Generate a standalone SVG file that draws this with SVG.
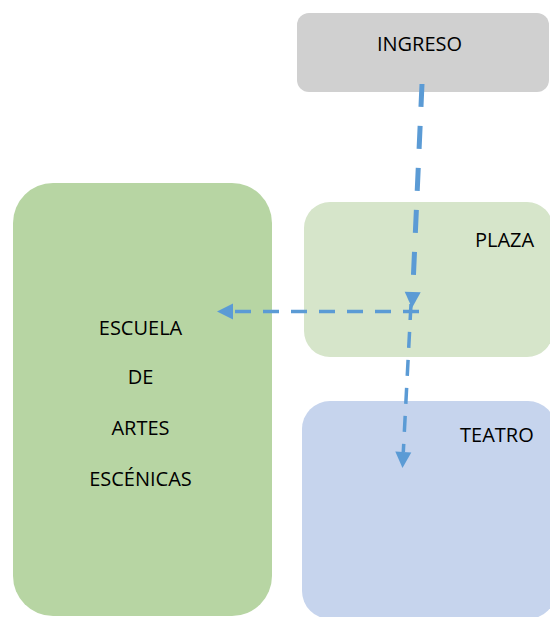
<svg xmlns="http://www.w3.org/2000/svg" width="550" height="617" viewBox="0 0 550 617">
  <style>
    text { font-family: "Open Sans", "Liberation Sans", sans-serif; font-size: 20px; fill: #000; }
    .mid { text-anchor: middle; }
    .conn { fill: none; stroke: #5b9bd5; stroke-linecap: butt; }
  </style>
  <defs>
    <marker id="arrow" markerUnits="userSpaceOnUse" markerWidth="16" markerHeight="16" refX="0" refY="8" orient="auto" overflow="visible">
      <path d="M0,0 L16,8 L0,16 Z" fill="#5b9bd5"/>
    </marker>
  </defs>
  <rect width="550" height="617" fill="#ffffff"/>

  <g id="escuela">
    <rect x="13" y="183" width="259" height="433" rx="40" ry="40" fill="#b7d5a3"/>
    <text class="mid" x="140.5" y="335">ESCUELA</text>
    <text class="mid" x="140.5" y="384">DE</text>
    <text class="mid" x="140.5" y="435">ARTES</text>
    <text class="mid" x="140.5" y="486">ESCÉNICAS</text>
  </g>

  <g id="ingreso">
    <rect x="297" y="13" width="252" height="79" rx="12" ry="12" fill="#d0d0d0"/>
    <text class="mid" x="419.5" y="51">INGRESO</text>
  </g>

  <g id="plaza">
    <rect x="304" y="202" width="249" height="155" rx="26" ry="26" fill="#d6e5ca"/>
    <text x="475" y="247">PLAZA</text>
  </g>

  <g id="teatro">
    <rect x="302" y="401" width="254" height="218" rx="28" ry="28" fill="#c6d4ed"/>
    <text x="460" y="442">TEATRO</text>
  </g>

  <g id="connectors">
    <path class="conn" d="M422,84 L412.7,292" stroke-width="5" stroke-dasharray="23 19" marker-end="url(#arrow)"/>
    <path class="conn" d="M419,311.5 L233,311.5" stroke-width="3.5" stroke-dasharray="16 12" marker-end="url(#arrow)"/>
    <path class="conn" d="M411,304 L403.3,452" stroke-width="3.5" stroke-dasharray="16 12" marker-end="url(#arrow)"/>
  </g>
</svg>
